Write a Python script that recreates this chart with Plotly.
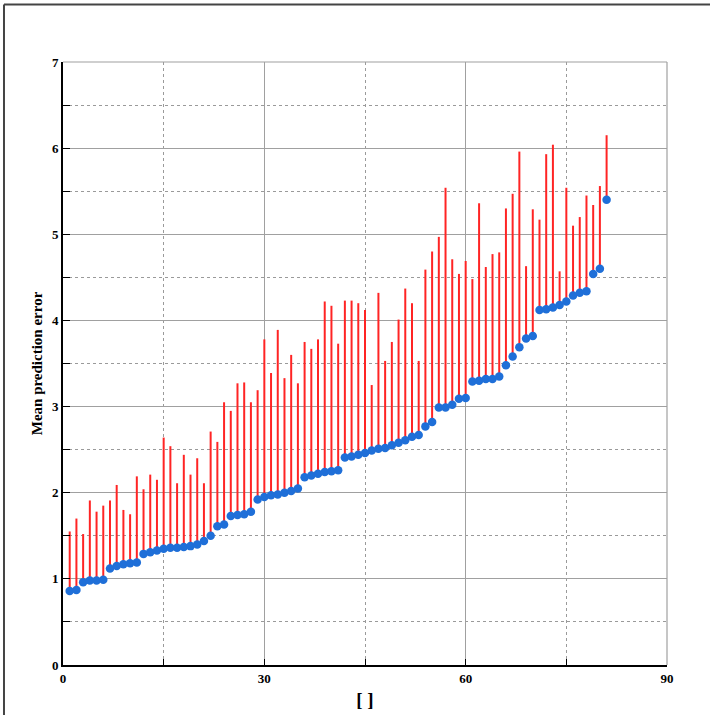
import plotly.graph_objects as go

# Case index (1..81), mean prediction error and the top of each error whisker
case_index = list(range(1, 82))
mean_error = [
    0.86, 0.87, 0.96, 0.98, 0.98, 0.99, 1.12, 1.15, 1.17, 1.18,
    1.19, 1.29, 1.31, 1.33, 1.35, 1.36, 1.36, 1.37, 1.38, 1.40,
    1.44, 1.50, 1.61, 1.63, 1.73, 1.74, 1.75, 1.78, 1.92, 1.95,
    1.97, 1.98, 2.00, 2.02, 2.05, 2.18, 2.20, 2.22, 2.24, 2.25,
    2.26, 2.41, 2.42, 2.44, 2.46, 2.49, 2.51, 2.52, 2.55, 2.58,
    2.61, 2.65, 2.67, 2.77, 2.82, 2.99, 2.99, 3.02, 3.09, 3.10,
    3.29, 3.30, 3.32, 3.32, 3.35, 3.48, 3.58, 3.69, 3.79, 3.82,
    4.12, 4.13, 4.15, 4.18, 4.22, 4.29, 4.32, 4.34, 4.54, 4.60,
    5.40,
]
upper_error = [
    1.55, 1.70, 1.52, 1.91, 1.78, 1.85, 1.91, 2.09, 1.80, 1.75,
    2.19, 2.04, 2.21, 2.15, 2.64, 2.54, 2.11, 2.44, 2.21, 2.40,
    2.11, 2.71, 2.59, 3.05, 2.95, 3.27, 3.28, 3.05, 3.19, 3.78,
    3.39, 3.89, 3.33, 3.60, 3.27, 3.75, 3.67, 3.78, 4.22, 4.17,
    3.73, 4.23, 4.23, 4.20, 4.12, 3.25, 4.32, 3.53, 3.75, 4.01,
    4.37, 4.20, 3.53, 4.59, 4.80, 4.97, 5.54, 4.71, 4.54, 4.69,
    4.48, 5.36, 4.62, 4.77, 4.79, 5.30, 5.47, 5.96, 4.63, 5.29,
    5.17, 5.93, 6.04, 4.57, 5.54, 5.10, 5.20, 5.45, 5.34, 5.56,
    6.15,
]
x_ticks = [0, 30, 60, 90]
y_ticks = [0, 1, 2, 3, 4, 5, 6, 7]

# Vertical whiskers: one segment per case, separated by gaps
seg_x, seg_y = [], []
for xi, lo, hi in zip(case_index, mean_error, upper_error):
    seg_x += [xi, xi, None]
    seg_y += [lo, hi, None]

fig = go.Figure()
fig.add_trace(go.Scatter(
    x=seg_x, y=seg_y, mode="lines",
    line=dict(color="#ff2424", width=2),
    hoverinfo="skip", showlegend=False,
))
fig.add_trace(go.Scatter(
    x=case_index, y=mean_error, mode="markers",
    marker=dict(color="#1f6fd8", size=8.5, symbol="circle"),
    showlegend=False,
))

serif_bold = dict(family="Liberation Serif, Times New Roman, serif", color="black", weight="bold")

fig.update_xaxes(
    range=[0, 90], tickvals=x_ticks, ticktext=[str(v) for v in x_ticks],
    showgrid=True, gridcolor="#a0a0a0", gridwidth=1.2,
    ticks="inside", ticklen=6, tickcolor="black", tickwidth=1,
    showline=True, linecolor="black", linewidth=2, mirror=False,
    zeroline=False, automargin=False,
    minor=dict(dtick=15, tick0=0, showgrid=True, gridcolor="#9a9a9a", griddash="dot",
               gridwidth=1, ticks="inside", ticklen=6, tickcolor="black"),
    tickfont=dict(size=13, **serif_bold),
    title=dict(text="[ ]", font=dict(size=19, **serif_bold), standoff=8),
)
fig.update_yaxes(
    range=[0, 7], tickvals=y_ticks, ticktext=[str(v) for v in y_ticks],
    showgrid=True, gridcolor="#a0a0a0", gridwidth=1.2,
    ticks="inside", ticklen=7, tickcolor="black", tickwidth=1,
    showline=True, linecolor="black", linewidth=2, mirror=False,
    zeroline=False, automargin=False,
    minor=dict(dtick=0.5, tick0=0, showgrid=True, gridcolor="#9a9a9a", griddash="dot",
               gridwidth=1, ticks="inside", ticklen=7, tickcolor="black"),
    tickfont=dict(size=13, **serif_bold),
    title=dict(text="Mean prediction error", font=dict(size=15, **serif_bold), standoff=6),
)

shapes = [
    # light frame on the top and right of the plotting area
    dict(type="line", xref="paper", yref="paper", x0=0, x1=1, y0=1, y1=1,
         line=dict(color="#a0a0a0", width=1.2)),
    dict(type="line", xref="paper", yref="paper", x0=1, x1=1, y0=0, y1=1,
         line=dict(color="#a0a0a0", width=1.2)),
    # outer page border (left and top edges)
    dict(type="line", xref="paper", yref="paper", x0=-0.0977, x1=-0.0977, y0=-0.15, y1=1.0955,
         line=dict(color="#444444", width=2)),
    dict(type="line", xref="paper", yref="paper", x0=-0.0977, x1=1.2, y0=1.0955, y1=1.0955,
         line=dict(color="#444444", width=2)),
]

fig.update_layout(
    width=710, height=715,
    margin=dict(l=63, r=43, t=62, b=50),
    paper_bgcolor="white", plot_bgcolor="white",
    shapes=shapes,
    showlegend=False,
)

fig.write_html("out.html")
